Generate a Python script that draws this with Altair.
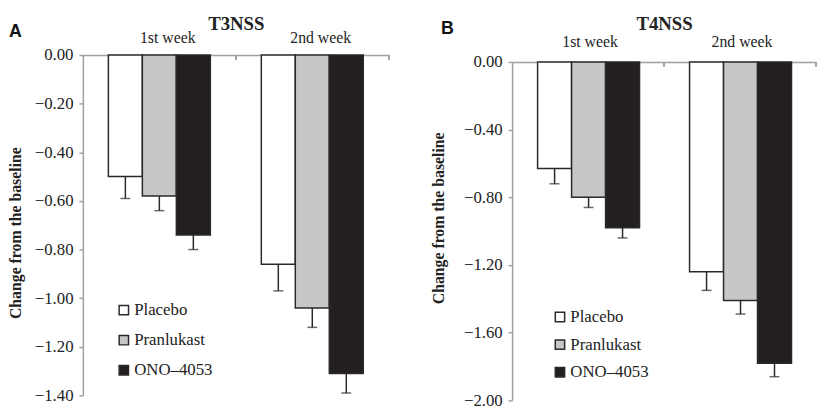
import altair as alt
import pandas as pd

weeks = ["1st week", "2nd week"]
drugs = ["Placebo", "Pranlukast", "ONO\u20134053"]
fills = ["#ffffff", "#c6c7c9", "#231f20"]

# order: 1st week (Placebo, Pranlukast, ONO), 2nd week (Placebo, Pranlukast, ONO)
t3_mean = [-0.50, -0.58, -0.74, -0.86, -1.04, -1.31]
t3_err = [0.09, 0.06, 0.06, 0.11, 0.08, 0.08]
t4_mean = [-0.63, -0.80, -0.98, -1.24, -1.41, -1.78]
t4_err = [0.09, 0.06, 0.06, 0.11, 0.08, 0.08]

t3_ticks = [0.0, -0.2, -0.4, -0.6, -0.8, -1.0, -1.2, -1.4]
t4_ticks = [0.0, -0.4, -0.8, -1.2, -1.6, -2.0]

SERIF = "Liberation Serif"
SANS = "Liberation Sans"
AXIS_GRAY = "#a0a0a0"
DARK = "#2a2a2a"


def panel(means, errs, ticks, title, letter, width, height, title_x, title_y,
          label_dx, label_pad, head_y, letter_x, letter_y, leg_x, leg_y, row_pad):
    df = pd.DataFrame({
        "week": [w for w in weeks for _ in drugs],
        "drug": drugs * len(weeks),
        "mean": means,
        "err": errs,
    })
    df["low"] = df["mean"] - df["err"]
    base = alt.Chart(df)
    x = alt.X("week:N", sort=weeks,
              scale=alt.Scale(domain=weeks, paddingInner=0, paddingOuter=0),
              axis=alt.Axis(orient="top", title=title, ticks=False, tickSize=0,
                            domainColor=AXIS_GRAY, domainWidth=1.5,
                            labelFont=SERIF, labelFontSize=16, labelColor="#222",
                            labelAngle=0, labelPadding=label_pad, labelOffset=label_dx,
                            titleFont=SERIF, titleFontSize=19, titleFontWeight="bold",
                            titleColor="#222", titleY=head_y,
                            titleBaseline="alphabetic"))
    xo = alt.XOffset("drug:N", sort=drugs,
                     scale=alt.Scale(domain=drugs, paddingInner=0, paddingOuter=0.75))
    y = alt.Y("mean:Q",
              scale=alt.Scale(domain=[ticks[-1], 0], nice=False, zero=True),
              axis=alt.Axis(values=ticks, format=".2f", grid=False,
                            title="Change from the  baseline",
                            titleFont=SERIF, titleFontSize=16, titleFontWeight="bold",
                            titleColor="#222", titleX=title_x, titleY=title_y,
                            domainColor=AXIS_GRAY, domainWidth=1.5,
                            tickColor=AXIS_GRAY, tickSize=4, tickWidth=1.5,
                            labelFont=SERIF, labelFontSize=17, labelColor="#222",
                            labelPadding=6))
    color = alt.Color("drug:N", sort=drugs,
                      scale=alt.Scale(domain=drugs, range=fills),
                      legend=alt.Legend(orient="none", legendX=leg_x, legendY=leg_y,
                                        title=None, symbolType="square",
                                        symbolSize=90, symbolStrokeColor=DARK,
                                        symbolStrokeWidth=1.5,
                                        labelFont=SERIF, labelFontSize=17,
                                        labelColor="#222", rowPadding=row_pad,
                                        labelOffset=2))
    bars = base.mark_bar(stroke=DARK, strokeWidth=1.5).encode(
        x=x, xOffset=xo, y=y, color=color)
    rules = base.mark_rule(color=DARK, strokeWidth=1.5).encode(
        x=alt.X("week:N", sort=weeks), xOffset=alt.XOffset("drug:N", sort=drugs),
        y="mean:Q", y2="low:Q")
    caps = base.mark_tick(color=DARK, thickness=1.5, size=10, orient="horizontal").encode(
        x=alt.X("week:N", sort=weeks), xOffset=alt.XOffset("drug:N", sort=drugs),
        y="low:Q")
    inner_ticks = base.mark_rule(color=AXIS_GRAY, strokeWidth=1.5).encode(
        x=alt.X("week:N", sort=weeks, bandPosition=1), y=alt.value(0), y2=alt.value(5))
    letter_mark = alt.Chart(pd.DataFrame({"label": [letter]})).mark_text(
        font=SANS, fontSize=18, fontWeight="bold", color="#111",
        align="left", baseline="alphabetic").encode(
        text="label:N", x=alt.value(letter_x), y=alt.value(letter_y))
    return alt.layer(bars, rules, caps, inner_ticks, letter_mark).properties(
        width=width, height=height
    ).resolve_scale(color="independent")


left = panel(t3_mean, t3_err, t3_ticks, "T3NSS", "A", 310, 345, -60, 180,
             8.5, 10, -26, -75, -18, 33, 250, 12.5)
right = panel(t4_mean, t4_err, t4_ticks, "T4NSS", "B", 308, 343, -67, 158,
              2, 13, -33, -72, -28, 40, 250, 10)

spacer = alt.Chart(pd.DataFrame({"a": [0]})).mark_point(opacity=0).encode(
    x=alt.value(0), y=alt.value(0)).properties(width=308, height=1)
right_col = alt.vconcat(spacer, right, spacing=6, bounds="flush")

chart = alt.hconcat(left, right_col, spacing=41).resolve_scale(
    color="independent").resolve_legend(color="independent").configure_view(
    stroke=None).configure_axis(labelFont=SERIF, titleFont=SERIF).configure_legend(
    labelFont=SERIF).properties(
    padding={"left": 8, "top": 12, "right": 0, "bottom": 0}, background="white")

chart.save("out.html", embed_options={"renderer": "svg", "actions": False})
